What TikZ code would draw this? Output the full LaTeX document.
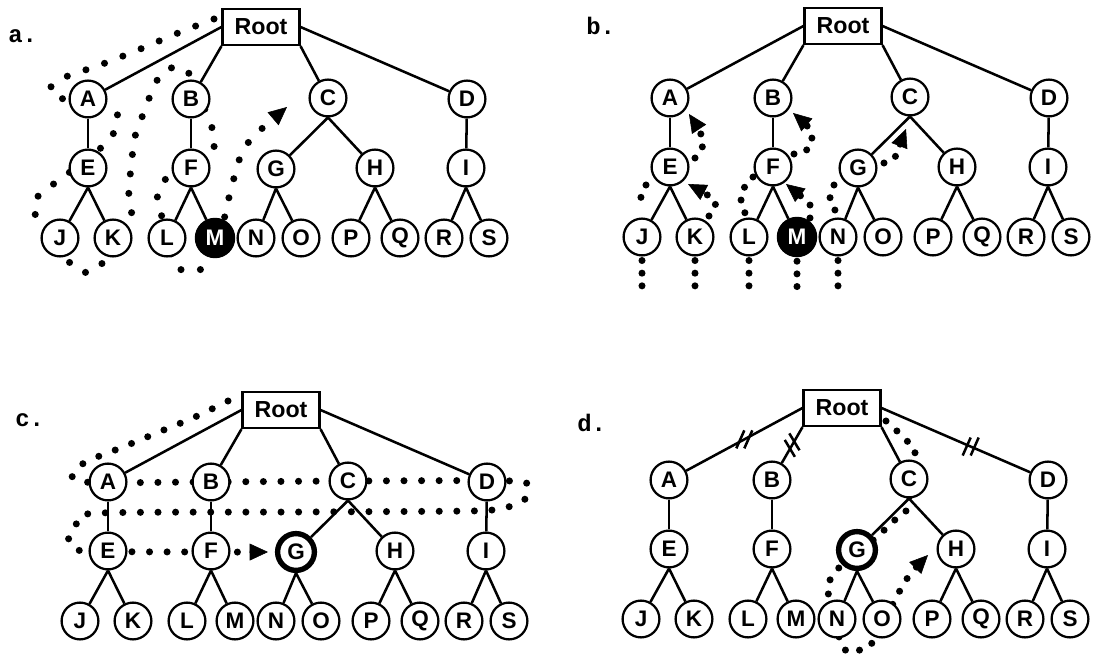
\documentclass[tikz,border=0pt]{standalone}
\usepackage{fontspec}
\setmainfont{Liberation Sans}
\newfontfamily\panelfont{Liberation Mono}
\usetikzlibrary{arrows.meta,calc}

\tikzset{
  vtx/.style={circle,draw,fill=white,line width=1.6pt,minimum size=0.92cm,inner sep=0pt,
    font=\fontsize{16}{16}\selectfont\bfseries},
  rootbox/.style={draw,fill=white,line width=1.6pt,minimum width=1.92cm,minimum height=0.9cm,
    inner sep=0pt,font=\fontsize{16.5}{16}\selectfont\bfseries},
  link/.style={line width=1.8pt},
  trail/.style={line width=5pt,line cap=round,dash pattern=on 0pt off #1},
  trail/.default=14pt,
  arrowtip/.style={-{Triangle[length=13pt,width=12pt,line width=0.4pt]}},
  seen/.style={fill=black,text=white,line width=2.6pt},
  ring/.style={line width=3.8pt},
  panel/.style={anchor=base west,inner sep=0pt,font=\panelfont\bfseries\fontsize{17}{17}\selectfont},
  snip/.pic={\draw[link] (-8,9) -- (0,-9) (0,9) -- (8,-9);}
}

% one tree: #1 = prefix for the node names, #2 = centre of the Root box
\newcommand{\drawtree}[2]{%
  \begin{scope}[shift={#2}]
    \node[rootbox] (#1Root) at (0,0) {Root};
    \foreach \n/\x/\y in {A/-173/72,B/-70/72,C/67/71,D/206/72,
        E/-173/141,F/-70/141,G/15/142,H/114/141,I/205/141,
        J/-201/211,K/-148/211,L/-94/211,M/-46/211,N/-5/211,
        O/40/211,P/90/211,Q/139/211,R/183/211,S/228/211}
      \node[vtx,hl \n/.try] (#1\n) at (\x,\y) {\n};
  \end{scope}
  \draw[link] (#1Root.west) -- (#1A) (#1Root.south west) -- (#1B)
    (#1Root.south east) -- (#1C) (#1Root.east) -- (#1D);
  \foreach \p/\c in {A/E,B/F,D/I}
    \draw[link] (#1\p) -- (#1\c);
  \foreach \p/\c in {E/J,E/K,F/L,F/M,C/G,C/H,G/N,G/O,H/P,H/Q,I/R,I/S}
    \draw[link] (#1\p.south) -- (#1\c);
}

\begin{document}
\begin{tikzpicture}[x=0.025cm,y=-0.025cm]
\useasboundingbox (0,0) rectangle (1099,655);

% a. -- depth first walk down to M
\begin{scope}[hl M/.style=seen]
  \draw[trail,arrowtip] plot[smooth,tension=0.55] coordinates {
    (214,19) (178,33) (138,50) (100,65) (63,78) (50,89) (60,98)
    (110,108) (118,120) (112,136) (102,147) (62,178) (48,188) (35,200)
    (35,214) (43,226) (70,263) (82,272) (100,266) (130,217) (130,201)
    (128,185) (132,166) (133,144) (139,125) (146,107) (152,91) (162,73)
    (177,67) (190,75) (209,120) (213,133) (212,149) (167,178) (159,191)
    (157,204) (162,217) (175,265) (190,269) (206,265) (226,213) (229,197)
    (233,182) (237,166) (244,149) (253,137) (266,125) (287,107)};
  \drawtree{a}{(261,27)}
\end{scope}
\node[panel] (tagA) at (8,43) {a.};

% b. -- searches climbing back up from the leaves
\begin{scope}[hl M/.style=seen]
  \drawtree{b}{(843,26)}
\end{scope}
\foreach \n in {J,K,L,M,N}
  \draw[trail=9pt] ($(b\n.south)+(0,4)$) -- ++(0,26);
\draw[trail=9.5pt] plot[smooth] coordinates {(646,185) (641,197) (640,210)};
\draw[trail=9.5pt] plot[smooth] coordinates {(753,177) (744,188) (741,201) (745,213)};
\draw[trail=9.5pt] plot[smooth] coordinates {(834,185) (830,198) (836,212)};
\draw[trail=9.5pt,arrowtip] plot[smooth] coordinates {(695,158) (703,145) (700,132) (689,114)};
\draw[trail=9.5pt,arrowtip] plot[smooth] coordinates {(709,216) (715,201) (688,184)};
\draw[trail=9.5pt,arrowtip] plot[smooth] coordinates {(794,154) (808,149) (812,137) (808,127) (793,113)};
\draw[trail=9.5pt,arrowtip] plot[smooth] coordinates {(810,218) (810,205) (786,184)};
\draw[trail=9.5pt,arrowtip] plot[smooth] coordinates {(884,163) (895,157) (899,147) (906,129)};
\node[panel] (tagB) at (586,35) {b.};

% c. -- breadth first, level by level, up to G
\begin{scope}[hl G/.style=ring]
  \draw[trail=12.5pt,arrowtip] plot[smooth,tension=0.5] coordinates {
    (228,401) (195,417) (159,432) (123,447) (90,460) (74,471) (84,482)
    (200,482) (350,481) (512,481) (525,487) (526,498) (515,505) (497,509)
    (470,511) (300,512) (100,513) (80,521) (69,533) (71,545) (86,551)
    (200,552) (268,552)};
  \drawtree{c}{(281,410)}
\end{scope}
\node[panel] (tagC) at (15,427) {c.};

% d. -- cut off branches, walk from G over to H
\begin{scope}[hl G/.style=ring]
  \draw[trail=10.5pt,arrowtip] plot[smooth,tension=0.55] coordinates {
    (886,421) (898,432) (908,442) (915,453) (907,508) (897,518) (887,527)
    (877,537) (842,565) (832,577) (828,592) (843,647) (860,650) (872,643)
    (895,600) (903,585) (912,572) (928,555)};
  \drawtree{d}{(842,408)}
\end{scope}
\path (dRoot.west) -- (dA) coordinate[pos=0.5] (cutA);
\path (dRoot.south west) -- (dB) coordinate[pos=0.5] (cutB);
\path (dRoot.east) -- (dD) coordinate[pos=0.6] (cutD);
\pic at (cutA) {snip};
\pic[rotate=55] at (cutB) {snip};
\pic at (cutD) {snip};
\node[panel] (tagD) at (577,432) {d.};
\end{tikzpicture}
\end{document}
